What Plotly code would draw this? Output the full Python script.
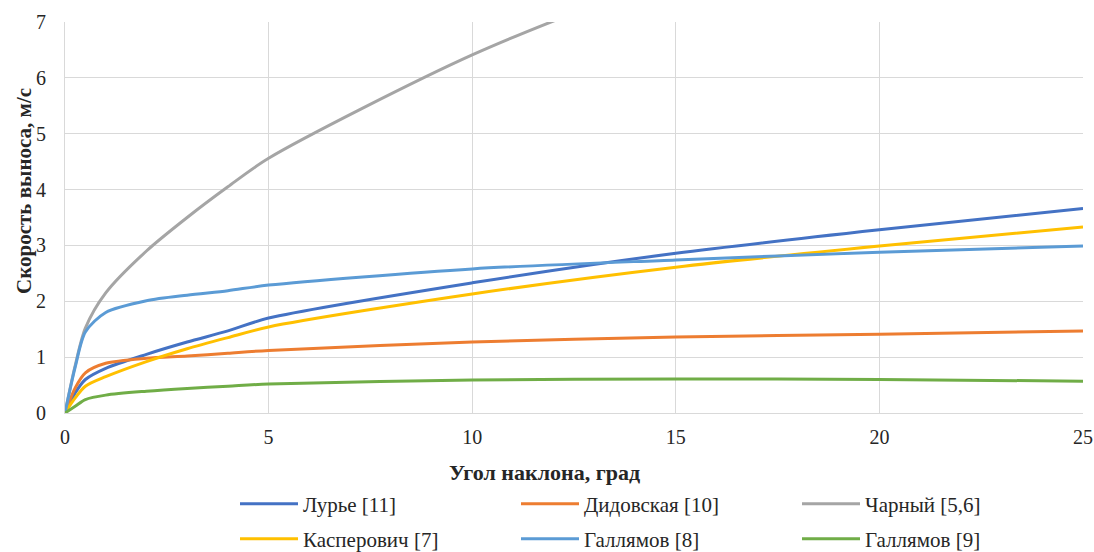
import plotly.graph_objects as go

x_vals = [0, 0.25, 0.5, 1, 2, 3, 4, 5, 10, 15, 20, 25]

lurie = [0, 0.36, 0.6, 0.8, 1.05, 1.27, 1.47, 1.70, 2.33, 2.86, 3.28, 3.66]
didovskaya = [0, 0.45, 0.72, 0.89, 0.98, 1.02, 1.07, 1.12, 1.27, 1.36, 1.41, 1.47]
charny = [0, 0.85, 1.52, 2.15, 2.9, 3.5, 4.05, 4.56, 6.41, 7.85, 9.1, 10.2]
kasperovich = [0, 0.27, 0.48, 0.65, 0.92, 1.15, 1.35, 1.54, 2.13, 2.61, 2.99, 3.33]
gallyamov8 = [0, 0.82, 1.45, 1.80, 2.01, 2.11, 2.19, 2.29, 2.58, 2.74, 2.88, 2.99]
gallyamov9 = [0, 0.12, 0.24, 0.32, 0.39, 0.44, 0.48, 0.52, 0.59, 0.61, 0.60, 0.57]

names = ["Лурье [11]", "Дидовская [10]", "Чарный [5,6]",
         "Касперович [7]", "Галлямов [8]", "Галлямов [9]"]
series = [lurie, didovskaya, charny, kasperovich, gallyamov8, gallyamov9]
colors = ["#4472C4", "#ED7D31", "#A5A5A5", "#FFC000", "#5B9BD5", "#70AD47"]
legends = ["legend", "legend", "legend", "legend2", "legend2", "legend2"]

x_title = "Угол наклона, град"
y_title = "Скорость выноса, м/с"

FONT = "Liberation Serif, Times New Roman, serif"
TXT = "#262626"

fig = go.Figure()
for n, s, c, lg in zip(names, series, colors, legends):
    fig.add_trace(go.Scatter(
        x=x_vals, y=s, name=n, mode="lines",
        line=dict(color=c, width=3, shape="spline", smoothing=0.8),
        legend=lg,
    ))

legend_common = dict(
    orientation="h", xanchor="left", yanchor="middle",
    font=dict(family=FONT, size=21, color=TXT),
    entrywidth=208, entrywidthmode="pixels",
    bgcolor="rgba(0,0,0,0)", itemwidth=58,
)

PLOT_H = 391
PLOT_W = 1018

fig.update_layout(
    width=1094, height=552,
    margin=dict(l=65, r=11, t=22, b=139, autoexpand=False),
    paper_bgcolor="white", plot_bgcolor="white",
    font=dict(family=FONT, color=TXT),
    showlegend=True,
    legend=dict(x=(235 - 65) / PLOT_W, y=-(504 - 413) / PLOT_H, **legend_common),
    legend2=dict(x=(235 - 65) / PLOT_W, y=-(539 - 413) / PLOT_H, **legend_common),
    xaxis=dict(
        range=[0, 25], dtick=5, tick0=0,
        showgrid=True, gridcolor="#D9D9D9", gridwidth=1,
        showline=True, linecolor="#D9D9D9", linewidth=1, mirror=False,
        zeroline=False, ticks="", automargin=False, ticklabelstandoff=6,
        tickfont=dict(family=FONT, size=20, color=TXT),
    ),
    yaxis=dict(
        range=[0, 7], dtick=1, tick0=0,
        showgrid=True, gridcolor="#D9D9D9", gridwidth=1,
        showline=True, linecolor="#D9D9D9", linewidth=1,
        zeroline=False, ticks="", ticklabelstandoff=14, automargin=False,
        tickfont=dict(family=FONT, size=20, color=TXT),
    ),
    annotations=[
        dict(text=f"<b>{x_title}</b>", xref="paper", yref="paper",
             x=(544 - 65) / PLOT_W, y=-(472 - 413) / PLOT_H,
             xanchor="center", yanchor="middle", showarrow=False,
             font=dict(family=FONT, size=22, color=TXT)),
        dict(text=f"<b>{y_title}</b>", xref="paper", yref="paper",
             x=-(65 - 24) / PLOT_W, y=(413 - 191) / PLOT_H,
             xanchor="center", yanchor="middle", showarrow=False, textangle=-90,
             font=dict(family=FONT, size=21, color=TXT)),
    ],
)

fig.write_html("out.html", config={"displayModeBar": False},
               post_script="document.body.style.margin='0';")
